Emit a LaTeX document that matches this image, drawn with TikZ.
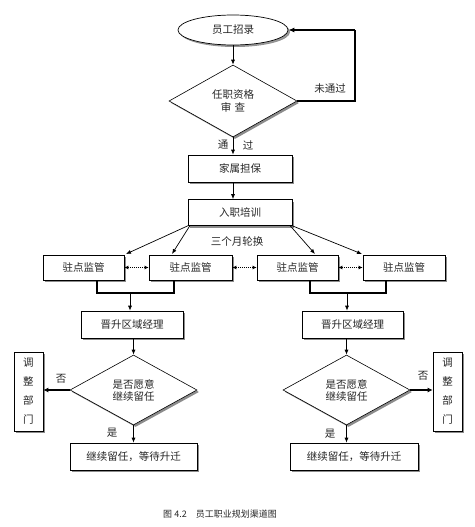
\documentclass[tikz,border=0pt]{standalone}
\usepackage{fontspec}
\setmainfont{Noto Sans CJK SC}
\usetikzlibrary{shapes.geometric,arrows.meta,shadows}
\begin{document}
\begin{tikzpicture}[x=1pt,y=-1pt,
  font=\fontsize{10.5}{12}\selectfont,
  shd/.style={drop shadow={shadow xshift=2pt,shadow yshift=-2pt,fill=black!45,opacity=1}},
  box/.style={draw,fill=white,line width=0.7pt,shd,inner sep=0pt,text=black!85},
  dia/.style={draw,fill=white,diamond,line width=0.6pt,shd,inner sep=0pt,align=center,text=black!85},
  arr/.style={-{Latex[length=5pt,width=4pt]},line width=0.7pt},
  thk/.style={line width=1.8pt},
  dbl/.style={{Latex[length=4pt,width=4pt]}-{Latex[length=4pt,width=4pt]},line width=1pt,densely dotted},
  lbl/.style={text=black!85,inner sep=0pt}]
\useasboundingbox (0,0) rectangle (474,527);
% nodes
\node[box,ellipse,minimum width=110pt,minimum height=30pt,drop shadow={shadow xshift=1.5pt,shadow yshift=-1.5pt,fill=black!35}] (start) at (233,30) {员工招录};
\node[dia,minimum width=128pt,minimum height=72pt] (d1) at (233,101) {任职资格\\[1pt]审\,\,查};
\node[box,minimum width=104pt,minimum height=27pt] (fam) at (240,168.5) {家属担保};
\node[box,minimum width=104pt,minimum height=26pt] (train) at (240,212.5) {入职培训};
\node[box,minimum width=81pt,minimum height=25pt] (s1) at (83.5,267.5) {驻点监管};
\node[box,minimum width=83pt,minimum height=25pt] (s2) at (190.5,267.5) {驻点监管};
\node[box,minimum width=81pt,minimum height=25pt] (s3) at (297.5,267.5) {驻点监管};
\node[box,minimum width=82pt,minimum height=25pt] (s4) at (404,267.5) {驻点监管};
\node[box,minimum width=102pt,minimum height=27pt] (p1) at (132,324.5) {晋升区域经理};
\node[box,minimum width=101pt,minimum height=27pt] (p2) at (352.5,324.5) {晋升区域经理};
\node[dia,minimum width=127pt,minimum height=70pt] (d2) at (133.5,390) {是否愿意\\继续留任};
\node[dia,minimum width=127pt,minimum height=70pt] (d3) at (346.5,390) {是否愿意\\继续留任};
\node[box,minimum width=29pt,minimum height=79pt,align=center,font=\fontsize{10.5}{19}\selectfont] (a1) at (28.5,391.5) {调\\整\\部\\门};
\node[box,minimum width=29pt,minimum height=79pt,align=center,font=\fontsize{10.5}{19}\selectfont] (a2) at (447.5,391.5) {调\\整\\部\\门};
\node[box,minimum width=127pt,minimum height=27pt] (c1) at (133.5,456.5) {继续留任，等待升迁};
\node[box,minimum width=128pt,minimum height=27pt] (c2) at (354,456.5) {继续留任，等待升迁};
% labels
\node[lbl] (l1) at (330,89) {未通过};
\node[lbl] (l2) at (223,145) {通};
\node[lbl] (l3) at (248,145) {过};
\node[lbl] (l4) at (237,242) {三个月轮换};
\node[lbl] (l5) at (61,379) {否};
\node[lbl] (l6) at (423,376) {否};
\node[lbl] (l7) at (112,433) {是};
\node[lbl] (l8) at (330,434) {是};
\node[lbl,font=\fontsize{9}{11}\selectfont] (cap) at (220,514) {图 4.2\quad 员工职业规划渠道图};
% coordinates
\coordinate (loopA) at (355,101);
\coordinate (loopB) at (355,30);
\coordinate (b1) at (97,293);
\coordinate (b2) at (174,293);
\coordinate (m1) at (130,293);
\coordinate (b3) at (310,293);
\coordinate (b4) at (386,293);
\coordinate (m2) at (347,293);
\coordinate (t1) at (188.5,225.5);
\coordinate (t2) at (190,225.5);
\coordinate (t3) at (290,225.5);
\coordinate (t4) at (291.5,225.5);
\coordinate (e1) at (126,254);
\coordinate (e2) at (172,254);
\coordinate (e3) at (315,254);
\coordinate (e4) at (362,254);
% connectors
\draw[arr] (start.south) -- (d1.north);
\draw[thk] (d1.east) -- (loopA) -- (loopB);
\draw[thk,-{Latex[length=6pt,width=5pt]}] (loopB) -- (start.east);
\draw[arr] (d1.south) -- (d1.south |- fam.north);
\draw[arr] (d1.south |- fam.south) -- (d1.south |- train.north);
\draw[arr] (t1) -- (e1);
\draw[arr] (t2) -- (e2);
\draw[arr] (t3) -- (e3);
\draw[arr] (t4) -- (e4);
\draw[dbl] (s1.east) -- (s2.west);
\draw[dbl] (s2.east) -- (s3.west);
\draw[dbl] (s3.east) -- (s4.west);
\draw[thk,line width=1.5pt] (b1 |- s1.south) -- (b1) -- (b2) -- (b2 |- s2.south);
\draw[thk,line width=1.5pt] (b3 |- s3.south) -- (b3) -- (b4) -- (b4 |- s4.south);
\draw[arr] (m1) -- (m1 |- p1.north);
\draw[arr] (m2) -- (m2 |- p2.north);
\draw[arr] (d2.north |- p1.south) -- (d2.north);
\draw[arr] (d3.north |- p2.south) -- (d3.north);
\draw[thk,line width=1.5pt,-{Latex[length=5pt,width=5pt]}] (d2.west) -- (a1.east |- d2.west);
\draw[thk,line width=1.5pt,-{Latex[length=5pt,width=5pt]}] (d3.east) -- (a2.west |- d3.east);
\draw[arr] (d2.south) -- (d2.south |- c1.north);
\draw[arr] (d3.south) -- (d3.south |- c2.north);
\end{tikzpicture}
\end{document}
